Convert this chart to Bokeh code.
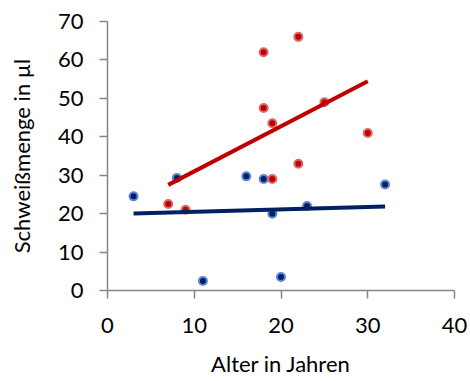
import numpy as np
from bokeh.plotting import figure
from bokeh.models import Range1d, FixedTicker, Title
from bokeh.embed import file_html
from bokeh.resources import INLINE

# Data (Alter in Jahren, Schweißmenge in µl)
red_x = [22, 18, 18, 25, 19, 30, 22, 19, 7, 9]
red_y = [66, 62, 47.5, 49, 43.5, 41, 33, 29, 22.5, 21]
blue_x = [3, 11, 8, 16, 18, 32, 19, 23, 20]
blue_y = [24.5, 2.5, 29.3, 29.7, 29, 27.6, 20, 22, 3.5]
x_ticks = [0, 10, 20, 30, 40]
y_ticks = [0, 10, 20, 30, 40, 50, 60, 70]
x_title = "Alter in Jahren"
y_title = "Schweißmenge in µl"

FONT = "Lato"

p = figure(width=470, height=381, output_backend="svg", toolbar_location=None,
           x_range=Range1d(0, 40), y_range=Range1d(0, 70),
           min_border_left=107, min_border_right=16, min_border_top=21, min_border_bottom=91)
p.outline_line_color = None
p.grid.grid_line_color = None

# trend lines (least squares)
def trend(xs, ys):
    m, b = np.polyfit(xs, ys, 1)
    x0, x1 = min(xs), max(xs)
    return [x0, x1], [m * x0 + b, m * x1 + b]

bx, by = trend(blue_x, blue_y)
rx, ry = trend(red_x, red_y)

p.scatter(blue_x, blue_y, size=8, fill_color="#002060", line_color="#5B86D6", line_width=2)
p.scatter(red_x, red_y, size=8, fill_color="#C00000", line_color="#DA6A6A", line_width=2)
p.line(bx, by, line_color="#002060", line_width=4)
p.line(rx, ry, line_color="#C00000", line_width=4)

for ax in (p.xaxis[0], p.yaxis[0]):
    ax.axis_line_color = "#868686"
    ax.axis_line_width = 1.5
    ax.major_tick_line_color = "#868686"
    ax.major_tick_line_width = 1.5
    ax.major_tick_out = 8
    ax.major_tick_in = 0
    ax.minor_tick_line_color = None
    ax.major_label_text_font = FONT
    ax.major_label_text_font_size = "22px"
    ax.major_label_text_color = "#000000"
    ax.axis_label_text_font = FONT
    ax.axis_label_text_font_size = "22px"
    ax.axis_label_text_font_style = "normal"
    ax.axis_label_text_color = "#000000"

p.xaxis.ticker = FixedTicker(ticks=x_ticks)
p.yaxis.ticker = FixedTicker(ticks=y_ticks)
p.yaxis.axis_label = y_title
p.xaxis.major_label_standoff = 19
p.yaxis.major_label_standoff = 16
p.yaxis.axis_label_standoff = 20

# small blank spacer between the tick labels and the x title
p.add_layout(Title(text=" ", text_font_size="9px", standoff=0), "below")
p.add_layout(Title(text=x_title, align="center", text_font=FONT,
                   text_font_size="22px", text_font_style="normal", text_color="#000000",
                   standoff=0), "below")

open("out.html", "w").write(file_html(p, INLINE))
